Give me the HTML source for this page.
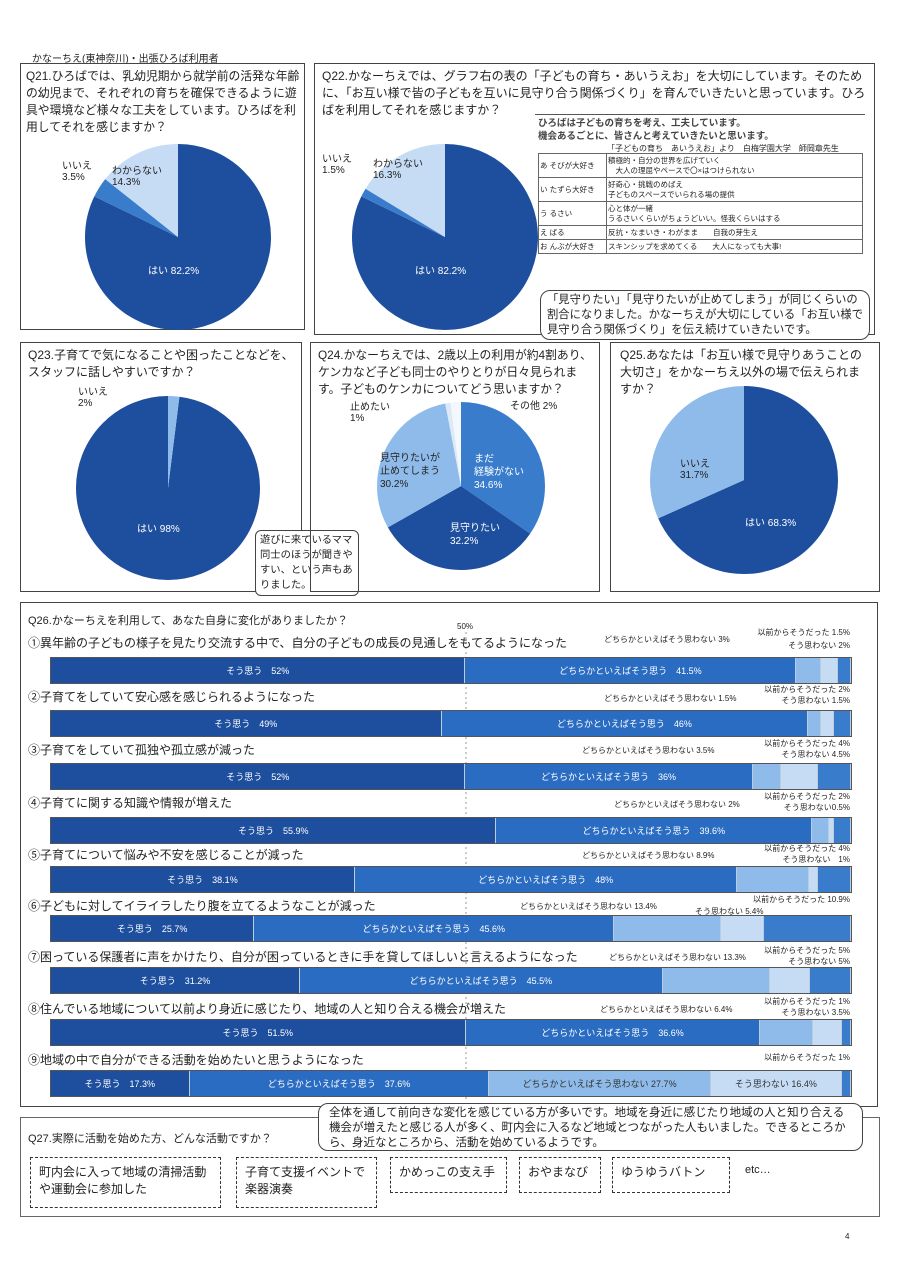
<!DOCTYPE html><html><head><meta charset="utf-8"><style>
body{margin:0;width:905px;height:1280px;background:#fff;position:relative;font-family:"Liberation Sans","Noto Sans CJK JP",sans-serif;color:#222;overflow:hidden}
.a{position:absolute}
.box{position:absolute;border:1.5px solid #444;box-sizing:border-box}
.t{font-size:12px;line-height:17px}
.s{font-size:9px;white-space:nowrap}
.bar{position:absolute;left:50px;width:802px;height:27px;display:flex;border:1px solid #555;box-sizing:border-box}
.bar div{height:100%;color:#fff;font-size:9px;display:flex;align-items:center;justify-content:center;white-space:nowrap;overflow:hidden;border-right:1px solid #bcd}
.c1{background:#1d4f9e}.c2{background:#2a6cc2}.c3{background:#8fbbea;color:#333!important}.c4{background:#c5dcf4;color:#333!important}.c5{background:#3a7ccc}
.q{position:absolute;left:28px;font-size:12px;white-space:nowrap}
.r{position:absolute;font-size:8px;white-space:nowrap;text-align:right;right:55px}
.call{position:absolute;border:1.3px solid #444;border-radius:10px;background:#fff;font-size:12px;line-height:17px;padding:3px 8px;box-sizing:border-box}
.d{position:absolute;border:1.5px dashed #333;font-size:12px;line-height:17px;padding:6px 8px;box-sizing:border-box}
</style></head><body>
<div class="a s" style="left:32px;top:50px;font-size:10px">かなーちえ(東神奈川)・出張ひろば利用者</div>

<div class="box" style="left:20px;top:63px;width:285px;height:267px"></div>
<div class="a t" style="left:26px;top:68px;width:276px;font-size:11.8px">Q21.ひろばでは、乳幼児期から就学前の活発な年齢の幼児まで、それぞれの育ちを確保できるように遊具や環境など様々な工夫をしています。ひろばを利用してそれを感じますか？</div>
<svg class="a" style="left:0;top:0" width="905" height="1280">
<g transform="translate(178,237) rotate(-90)">
<circle r="46.5" fill="none" stroke="#1d4f9e" stroke-width="93" pathLength="100" stroke-dasharray="82.2 100"/>
<circle r="46.5" fill="none" stroke="#3a7ccc" stroke-width="93" pathLength="100" stroke-dasharray="3.5 100" stroke-dashoffset="-82.2"/>
<circle r="46.5" fill="none" stroke="#c5dcf4" stroke-width="93" pathLength="100" stroke-dasharray="14.3 100" stroke-dashoffset="-85.7"/></g>
<g transform="translate(445,237) rotate(-90)">
<circle r="46.5" fill="none" stroke="#1d4f9e" stroke-width="93" pathLength="100" stroke-dasharray="82.2 100"/>
<circle r="46.5" fill="none" stroke="#3a7ccc" stroke-width="93" pathLength="100" stroke-dasharray="1.5 100" stroke-dashoffset="-82.2"/>
<circle r="46.5" fill="none" stroke="#c5dcf4" stroke-width="93" pathLength="100" stroke-dasharray="16.3 100" stroke-dashoffset="-83.7"/></g>
<g transform="translate(168,488) rotate(-90)">
<circle r="46" fill="none" stroke="#1d4f9e" stroke-width="92" pathLength="100" stroke-dasharray="98 100" stroke-dashoffset="-2"/>
<circle r="46" fill="none" stroke="#8fbbea" stroke-width="92" pathLength="100" stroke-dasharray="2 100"/></g>
<g transform="translate(461,486) rotate(-90)">
<circle r="42" fill="none" stroke="#3a7ccc" stroke-width="84" pathLength="100" stroke-dasharray="34.6 100"/>
<circle r="42" fill="none" stroke="#1d4f9e" stroke-width="84" pathLength="100" stroke-dasharray="32.2 100" stroke-dashoffset="-34.6"/>
<circle r="42" fill="none" stroke="#8fbbea" stroke-width="84" pathLength="100" stroke-dasharray="30.2 100" stroke-dashoffset="-66.8"/>
<circle r="42" fill="none" stroke="#dde9f7" stroke-width="84" pathLength="100" stroke-dasharray="1 100" stroke-dashoffset="-97"/>
<circle r="42" fill="none" stroke="#f4f8fc" stroke-width="84" pathLength="100" stroke-dasharray="2 100" stroke-dashoffset="-98"/></g>
<g transform="translate(744,480) rotate(-90)">
<circle r="47" fill="none" stroke="#1d4f9e" stroke-width="94" pathLength="100" stroke-dasharray="68.3 100"/>
<circle r="47" fill="none" stroke="#8fbbea" stroke-width="94" pathLength="100" stroke-dasharray="31.7 100" stroke-dashoffset="-68.3"/></g>
<line x1="466" y1="632" x2="466" y2="1100" stroke="#999" stroke-dasharray="2 3"/>
</svg>
<div class="a s" style="left:62px;top:157px;font-size:10px">いいえ<br>3.5%</div>
<div class="a s" style="left:112px;top:162px;font-size:10px">わからない<br>14.3%</div>
<div class="a s" style="left:148px;top:262px;font-size:10px;color:#fff">はい 82.2%</div>

<div class="box" style="left:314px;top:63px;width:561px;height:272px"></div>
<div class="a t" style="left:322px;top:68px;width:545px">Q22.かなーちえでは、グラフ右の表の「子どもの育ち・あいうえお」を大切にしています。そのために、「お互い様で皆の子どもを互いに見守り合う関係づくり」を育んでいきたいと思っています。ひろばを利用してそれを感じますか？</div>
<div class="a s" style="left:322px;top:150px;font-size:10px">いいえ<br>1.5%</div>
<div class="a s" style="left:373px;top:155px;font-size:10px">わからない<br>16.3%</div>
<div class="a s" style="left:415px;top:262px;font-size:10px;color:#fff">はい 82.2%</div>
<div class="a" style="left:535px;top:114px;width:330px;border-top:1.5px solid #555"></div>
<div class="a s" style="left:538px;top:117px;font-size:9.5px;line-height:13px;font-weight:bold;color:#444">ひろばは子どもの育ちを考え、工夫しています。<br>機会あるごとに、皆さんと考えていきたいと思います。</div>
<div class="a s" style="left:607px;top:143px;font-size:8px">「子どもの育ち　あいうえお」より　白梅学園大学　師岡章先生</div>
<table class="a" style="left:538px;top:153px;width:325px;border-collapse:collapse;font-size:7.5px;line-height:10px">
<tr><td style="border:1px solid #666;width:65px;height:21px">あ そびが大好き</td><td style="border:1px solid #666">積極的・自分の世界を広げていく<br>　大人の理屈やペースで〇×はつけられない</td></tr>
<tr><td style="border:1px solid #666;height:21px">い たずら大好き</td><td style="border:1px solid #666">好奇心・挑戦のめばえ<br>子どものスペースでいられる場の提供</td></tr>
<tr><td style="border:1px solid #666;height:21px">う るさい</td><td style="border:1px solid #666">心と体が一緒<br>うるさいくらいがちょうどいい。怪我くらいはする</td></tr>
<tr><td style="border:1px solid #666;height:11px">え ばる</td><td style="border:1px solid #666">反抗・なまいき・わがまま　　自我の芽生え</td></tr>
<tr><td style="border:1px solid #666;height:11px">お んぶが大好き</td><td style="border:1px solid #666">スキンシップを求めてくる　　大人になっても大事!</td></tr></table>
<div class="call" style="left:540px;top:290px;width:330px;height:50px;font-size:11.3px;line-height:15px;padding:2px 6px">「見守りたい」「見守りたいが止めてしまう」が同じくらいの割合になりました。かなーちえが大切にしている「お互い様で見守り合う関係づくり」を伝え続けていきたいです。</div>

<div class="box" style="left:20px;top:342px;width:282px;height:250px"></div>
<div class="a t" style="left:28px;top:347px;width:270px">Q23.子育てで気になることや困ったことなどを、スタッフに話しやすいですか？</div>
<div class="a s" style="left:78px;top:383px;font-size:10px">いいえ<br>2%</div>
<div class="a s" style="left:137px;top:520px;font-size:10px;color:#fff">はい 98%</div>
<div class="call" style="left:255px;top:530px;width:104px;height:66px;border-radius:6px;font-size:10.3px;line-height:15px;padding:2px 4px">遊びに来ているママ同士のほうが聞きやすい、という声もありました。</div>

<div class="box" style="left:310px;top:342px;width:290px;height:250px"></div>
<div class="a t" style="left:318px;top:347px;width:280px;font-size:11.8px">Q24.かなーちえでは、2歳以上の利用が約4割あり、ケンカなど子ども同士のやりとりが日々見られます。子どものケンカについてどう思いますか？</div>
<div class="a s" style="left:350px;top:398px;font-size:10px">止めたい<br>1%</div>
<div class="a s" style="left:510px;top:397px;font-size:10px">その他 2%</div>
<div class="a s" style="left:380px;top:452px;font-size:10px;line-height:13px">見守りたいが<br>止めてしまう<br>30.2%</div>
<div class="a s" style="left:474px;top:453px;font-size:10px;line-height:13px;color:#fff">まだ<br>経験がない<br>34.6%</div>
<div class="a s" style="left:450px;top:522px;font-size:10px;line-height:13px;color:#fff">見守りたい<br>32.2%</div>

<div class="box" style="left:610px;top:342px;width:270px;height:250px"></div>
<div class="a t" style="left:620px;top:347px;width:250px">Q25.あなたは「お互い様で見守りあうことの大切さ」をかなーちえ以外の場で伝えられますか？</div>
<div class="a s" style="left:680px;top:455px;font-size:10px">いいえ<br>31.7%</div>
<div class="a s" style="left:745px;top:514px;font-size:10px;color:#fff">はい 68.3%</div>

<div class="box" style="left:20px;top:602px;width:858px;height:505px"></div>
<div class="q" style="top:612px;font-size:11px">Q26.かなーちえを利用して、あなた自身に変化がありましたか？</div>
<div class="a s" style="left:457px;top:622px;font-size:8px">50%</div>

<div class="q" style="top:634px">①異年齢の子どもの様子を見たり交流する中で、自分の子どもの成長の見通しをもてるようになった</div>
<div class="a s" style="left:604px;top:634px;font-size:8px">どちらかといえばそう思わない 3%</div>
<div class="r" style="top:626px;line-height:13px">以前からそうだった 1.5%<br>そう思わない 2%</div>
<div class="bar" style="top:657px"><div class="c1" style="flex:52">そう思う　52%</div><div class="c2" style="flex:41.5">どちらかといえばそう思う　41.5%</div><div class="c3" style="flex:3"></div><div class="c4" style="flex:2"></div><div class="c5" style="flex:1.5"></div></div>

<div class="q" style="top:688px">②子育てをしていて安心感を感じられるようになった</div>
<div class="a s" style="left:604px;top:693px;font-size:8px">どちらかといえばそう思わない 1.5%</div>
<div class="r" style="top:684px;line-height:11px">以前からそうだった 2%<br>そう思わない 1.5%</div>
<div class="bar" style="top:710px"><div class="c1" style="flex:49">そう思う　49%</div><div class="c2" style="flex:46">どちらかといえばそう思う　46%</div><div class="c3" style="flex:1.5"></div><div class="c4" style="flex:1.5"></div><div class="c5" style="flex:2"></div></div>

<div class="q" style="top:741px">③子育てをしていて孤独や孤立感が減った</div>
<div class="a s" style="left:582px;top:745px;font-size:8px">どちらかといえばそう思わない 3.5%</div>
<div class="r" style="top:738px;line-height:11px">以前からそうだった 4%<br>そう思わない 4.5%</div>
<div class="bar" style="top:763px"><div class="c1" style="flex:52">そう思う　52%</div><div class="c2" style="flex:36">どちらかといえばそう思う　36%</div><div class="c3" style="flex:3.5"></div><div class="c4" style="flex:4.5"></div><div class="c5" style="flex:4"></div></div>

<div class="q" style="top:794px">④子育てに関する知識や情報が増えた</div>
<div class="a s" style="left:614px;top:799px;font-size:8px">どちらかといえばそう思わない 2%</div>
<div class="r" style="top:791px;line-height:11px">以前からそうだった 2%<br>そう思わない0.5%</div>
<div class="bar" style="top:817px"><div class="c1" style="flex:55.9">そう思う　55.9%</div><div class="c2" style="flex:39.6">どちらかといえばそう思う　39.6%</div><div class="c3" style="flex:2"></div><div class="c4" style="flex:0.5"></div><div class="c5" style="flex:2"></div></div>

<div class="q" style="top:846px">⑤子育てについて悩みや不安を感じることが減った</div>
<div class="a s" style="left:582px;top:850px;font-size:8px">どちらかといえばそう思わない 8.9%</div>
<div class="r" style="top:843px;line-height:11px">以前からそうだった 4%<br>そう思わない　1%</div>
<div class="bar" style="top:866px"><div class="c1" style="flex:38.1">そう思う　38.1%</div><div class="c2" style="flex:48">どちらかといえばそう思う　48%</div><div class="c3" style="flex:8.9"></div><div class="c4" style="flex:1"></div><div class="c5" style="flex:4"></div></div>

<div class="q" style="top:897px">⑥子どもに対してイライラしたり腹を立てるようなことが減った</div>
<div class="a s" style="left:520px;top:901px;font-size:8px">どちらかといえばそう思わない 13.4%</div>
<div class="a s" style="left:695px;top:906px;font-size:8px">そう思わない 5.4%</div>
<div class="r" style="top:894px">以前からそうだった 10.9%</div>
<div class="bar" style="top:915px"><div class="c1" style="flex:25.7">そう思う　25.7%</div><div class="c2" style="flex:45.6">どちらかといえばそう思う　45.6%</div><div class="c3" style="flex:13.4"></div><div class="c4" style="flex:5.4"></div><div class="c5" style="flex:10.9"></div></div>

<div class="q" style="top:948px">⑦困っている保護者に声をかけたり、自分が困っているときに手を貸してほしいと言えるようになった</div>
<div class="a s" style="left:609px;top:952px;font-size:8px">どちらかといえばそう思わない 13.3%</div>
<div class="r" style="top:945px;line-height:11px">以前からそうだった 5%<br>そう思わない 5%</div>
<div class="bar" style="top:967px"><div class="c1" style="flex:31.2">そう思う　31.2%</div><div class="c2" style="flex:45.5">どちらかといえばそう思う　45.5%</div><div class="c3" style="flex:13.3"></div><div class="c4" style="flex:5"></div><div class="c5" style="flex:5"></div></div>

<div class="q" style="top:1000px">⑧住んでいる地域について以前より身近に感じたり、地域の人と知り合える機会が増えた</div>
<div class="a s" style="left:600px;top:1004px;font-size:8px">どちらかといえばそう思わない 6.4%</div>
<div class="r" style="top:996px;line-height:11px">以前からそうだった 1%<br>そう思わない 3.5%</div>
<div class="bar" style="top:1019px"><div class="c1" style="flex:51.5">そう思う　51.5%</div><div class="c2" style="flex:36.6">どちらかといえばそう思う　36.6%</div><div class="c3" style="flex:6.4"></div><div class="c4" style="flex:3.5"></div><div class="c5" style="flex:1"></div></div>

<div class="q" style="top:1051px">⑨地域の中で自分ができる活動を始めたいと思うようになった</div>
<div class="r" style="top:1052px">以前からそうだった 1%</div>
<div class="bar" style="top:1070px"><div class="c1" style="flex:17.3">そう思う　17.3%</div><div class="c2" style="flex:37.6">どちらかといえばそう思う　37.6%</div><div class="c3" style="flex:27.7">どちらかといえばそう思わない 27.7%</div><div class="c4" style="flex:16.4">そう思わない 16.4%</div><div class="c5" style="flex:1"></div></div>

<div class="box" style="left:20px;top:1117px;width:860px;height:100px;border-color:#666"></div>
<div class="q" style="top:1130px;font-size:11px">Q27.実際に活動を始めた方、どんな活動ですか？</div>
<div class="call" style="left:318px;top:1103px;width:545px;height:48px;font-size:11.5px;line-height:15px;padding:2px 10px">全体を通して前向きな変化を感じている方が多いです。地域を身近に感じたり地域の人と知り合える機会が増えたと感じる人が多く、町内会に入るなど地域とつながった人もいました。できるところから、身近なところから、活動を始めているようです。</div>
<div class="d" style="left:30px;top:1157px;width:191px;height:51px">町内会に入って地域の清掃活動や運動会に参加した</div>
<div class="d" style="left:236px;top:1157px;width:141px;height:51px">子育て支援イベントで<br>楽器演奏</div>
<div class="d" style="left:390px;top:1157px;width:117px;height:36px">かめっこの支え手</div>
<div class="d" style="left:519px;top:1157px;width:82px;height:36px">おやまなび</div>
<div class="d" style="left:612px;top:1157px;width:118px;height:36px">ゆうゆうバトン</div>
<div class="a s" style="left:745px;top:1164px;font-size:11px">etc…</div>
<div class="a s" style="left:845px;top:1232px;font-size:8px">4</div>
</body></html>
